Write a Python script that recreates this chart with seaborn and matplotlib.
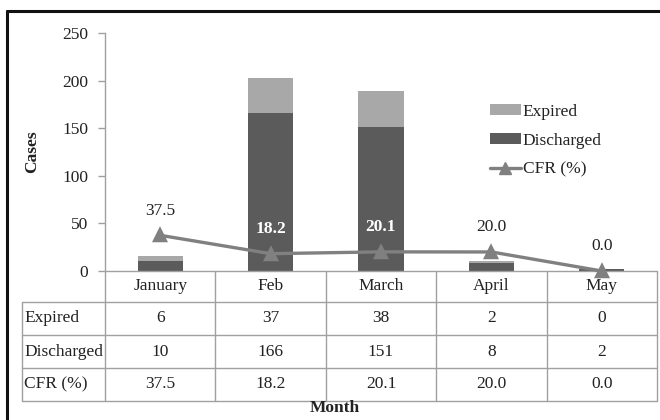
import matplotlib
matplotlib.use("Agg")
import matplotlib.pyplot as plt
from matplotlib.lines import Line2D
from matplotlib.patches import Patch
from matplotlib.transforms import blended_transform_factory
import seaborn as sns
import pandas as pd

# Monthly outcome counts and case fatality rate
months = ["January", "Feb", "March", "April", "May"]
expired = [6, 37, 38, 2, 0]
discharged = [10, 166, 151, 8, 2]
cfr = [37.5, 18.2, 20.1, 20.0, 0.0]
row_labels = ["Expired", "Discharged", "CFR (%)"]
yticks = [0, 50, 100, 150, 200, 250]

sns.set_theme(style="white")
plt.rcParams["font.family"] = ["Liberation Serif", "DejaVu Serif"]

df = pd.DataFrame({"Month": months, "Expired": expired,
                   "Discharged": discharged, "CFR": cfr})
df["Total"] = df["Expired"] + df["Discharged"]

W, H = 660, 420
fig = plt.figure(figsize=(W / 100, H / 100), dpi=100)
ax = fig.add_axes([105 / W, (H - 271) / H, (657 - 105) / W, (271 - 33) / H])

light = "#a8a8a8"
dark = "#5b5b5b"
line_c = "#808080"
grid_c = "#a0a0a0"
txt_c = "#222222"
fs = 12.5

# Stacked bars: total in light grey, discharged drawn over it in dark grey
sns.barplot(data=df, x="Month", y="Total", color=light, width=0.41,
            saturation=1, ax=ax, zorder=1, edgecolor="none", linewidth=0)
sns.barplot(data=df, x="Month", y="Discharged", color=dark, width=0.41,
            saturation=1, ax=ax, zorder=1, edgecolor="none", linewidth=0)
sns.pointplot(data=df, x="Month", y="CFR", color=line_c, markers="^",
              linewidth=2.4, markersize=8, ax=ax)
for art in ax.collections + ax.lines:
    art.set_zorder(3)
    art.set_clip_on(False)

# CFR value labels
for i, v in enumerate(cfr):
    inside = discharged[i] > v + 30
    ax.annotate(f"{v:.1f}", (i, v), xytext=(0, 12), textcoords="offset points",
                ha="center", va="bottom", fontsize=fs,
                color="white" if inside else txt_c,
                fontweight="bold" if inside else "normal", zorder=4)

ax.set_xlim(-0.5, 4.5)
ax.set_ylim(0, 250)
ax.set_yticks(yticks)
ax.set_xlabel("")
ax.set_ylabel("Cases", fontweight="bold", fontsize=fs, color=txt_c)
ax.yaxis.set_label_coords(-0.118, 0.5)
ax.tick_params(axis="x", bottom=False, labelbottom=False)
ax.tick_params(axis="y", left=True, length=5, width=1, color=grid_c,
               labelsize=fs, labelcolor=txt_c, pad=7)
for s in ["top", "right", "bottom"]:
    ax.spines[s].set_visible(False)
ax.spines["left"].set_color(grid_c)
ax.spines["left"].set_linewidth(1)

# Data table below the plot
tr = blended_transform_factory(ax.transData, ax.transAxes)
def fy(px):
    return (271 - px) / 238
x_left = (22 - 105) / 110.4 - 0.5
row_edges = [271, 302, 335, 368, 401]
for k, y in enumerate(row_edges):
    x0 = -0.5 if k == 0 else x_left
    ax.add_line(Line2D([x0, 4.5], [fy(y), fy(y)], transform=tr, color=grid_c,
                       lw=1, clip_on=False, zorder=2))
ax.add_line(Line2D([x_left, x_left], [fy(302), fy(401)], transform=tr,
                   color=grid_c, lw=1, clip_on=False))
for j in range(6):
    xv = j - 0.5
    ax.add_line(Line2D([xv, xv], [fy(271), fy(401)], transform=tr,
                       color=grid_c, lw=1, clip_on=False))

rows = [expired, discharged, [f"{v:.1f}" for v in cfr]]
for j, m in enumerate(months):
    ax.text(j, fy((271 + 302) / 2), m, transform=tr, ha="center", va="center",
            fontsize=fs, color=txt_c)
for r, (lab, vals) in enumerate(zip(row_labels, rows)):
    yc = fy((row_edges[r + 1] + row_edges[r + 2]) / 2)
    ax.text(x_left + 0.02, yc, lab, transform=tr, ha="left", va="center",
            fontsize=fs, color=txt_c)
    for j, v in enumerate(vals):
        ax.text(j, yc, str(v), transform=tr, ha="center", va="center",
                fontsize=fs, color=txt_c)

fig.text(335 / W, (H - 408) / H, "Month", ha="center", va="center",
         fontweight="bold", fontsize=fs, color=txt_c)

# Legend
handles = [Patch(facecolor=light, edgecolor="none"),
           Patch(facecolor=dark, edgecolor="none"),
           Line2D([0], [0], color=line_c, lw=2.4, marker="^", markersize=8)]
ax.legend(handles, ["Expired", "Discharged", "CFR (%)"], loc="upper left",
          bbox_to_anchor=(474 / W, (H - 88) / H), bbox_transform=fig.transFigure,
          frameon=False, fontsize=fs, handlelength=1.8, handleheight=0.55,
          labelspacing=0.75, handletextpad=0.1, labelcolor=txt_c)

# Outer frame
fig.add_artist(Line2D([7 / W, 7 / W], [0, (H - 11) / H],
                      transform=fig.transFigure, color="#111111", lw=2.2))
fig.add_artist(Line2D([7 / W, 1], [(H - 11) / H, (H - 11) / H],
                      transform=fig.transFigure, color="#111111", lw=2.2))

fig.savefig("out.png", dpi=100)
